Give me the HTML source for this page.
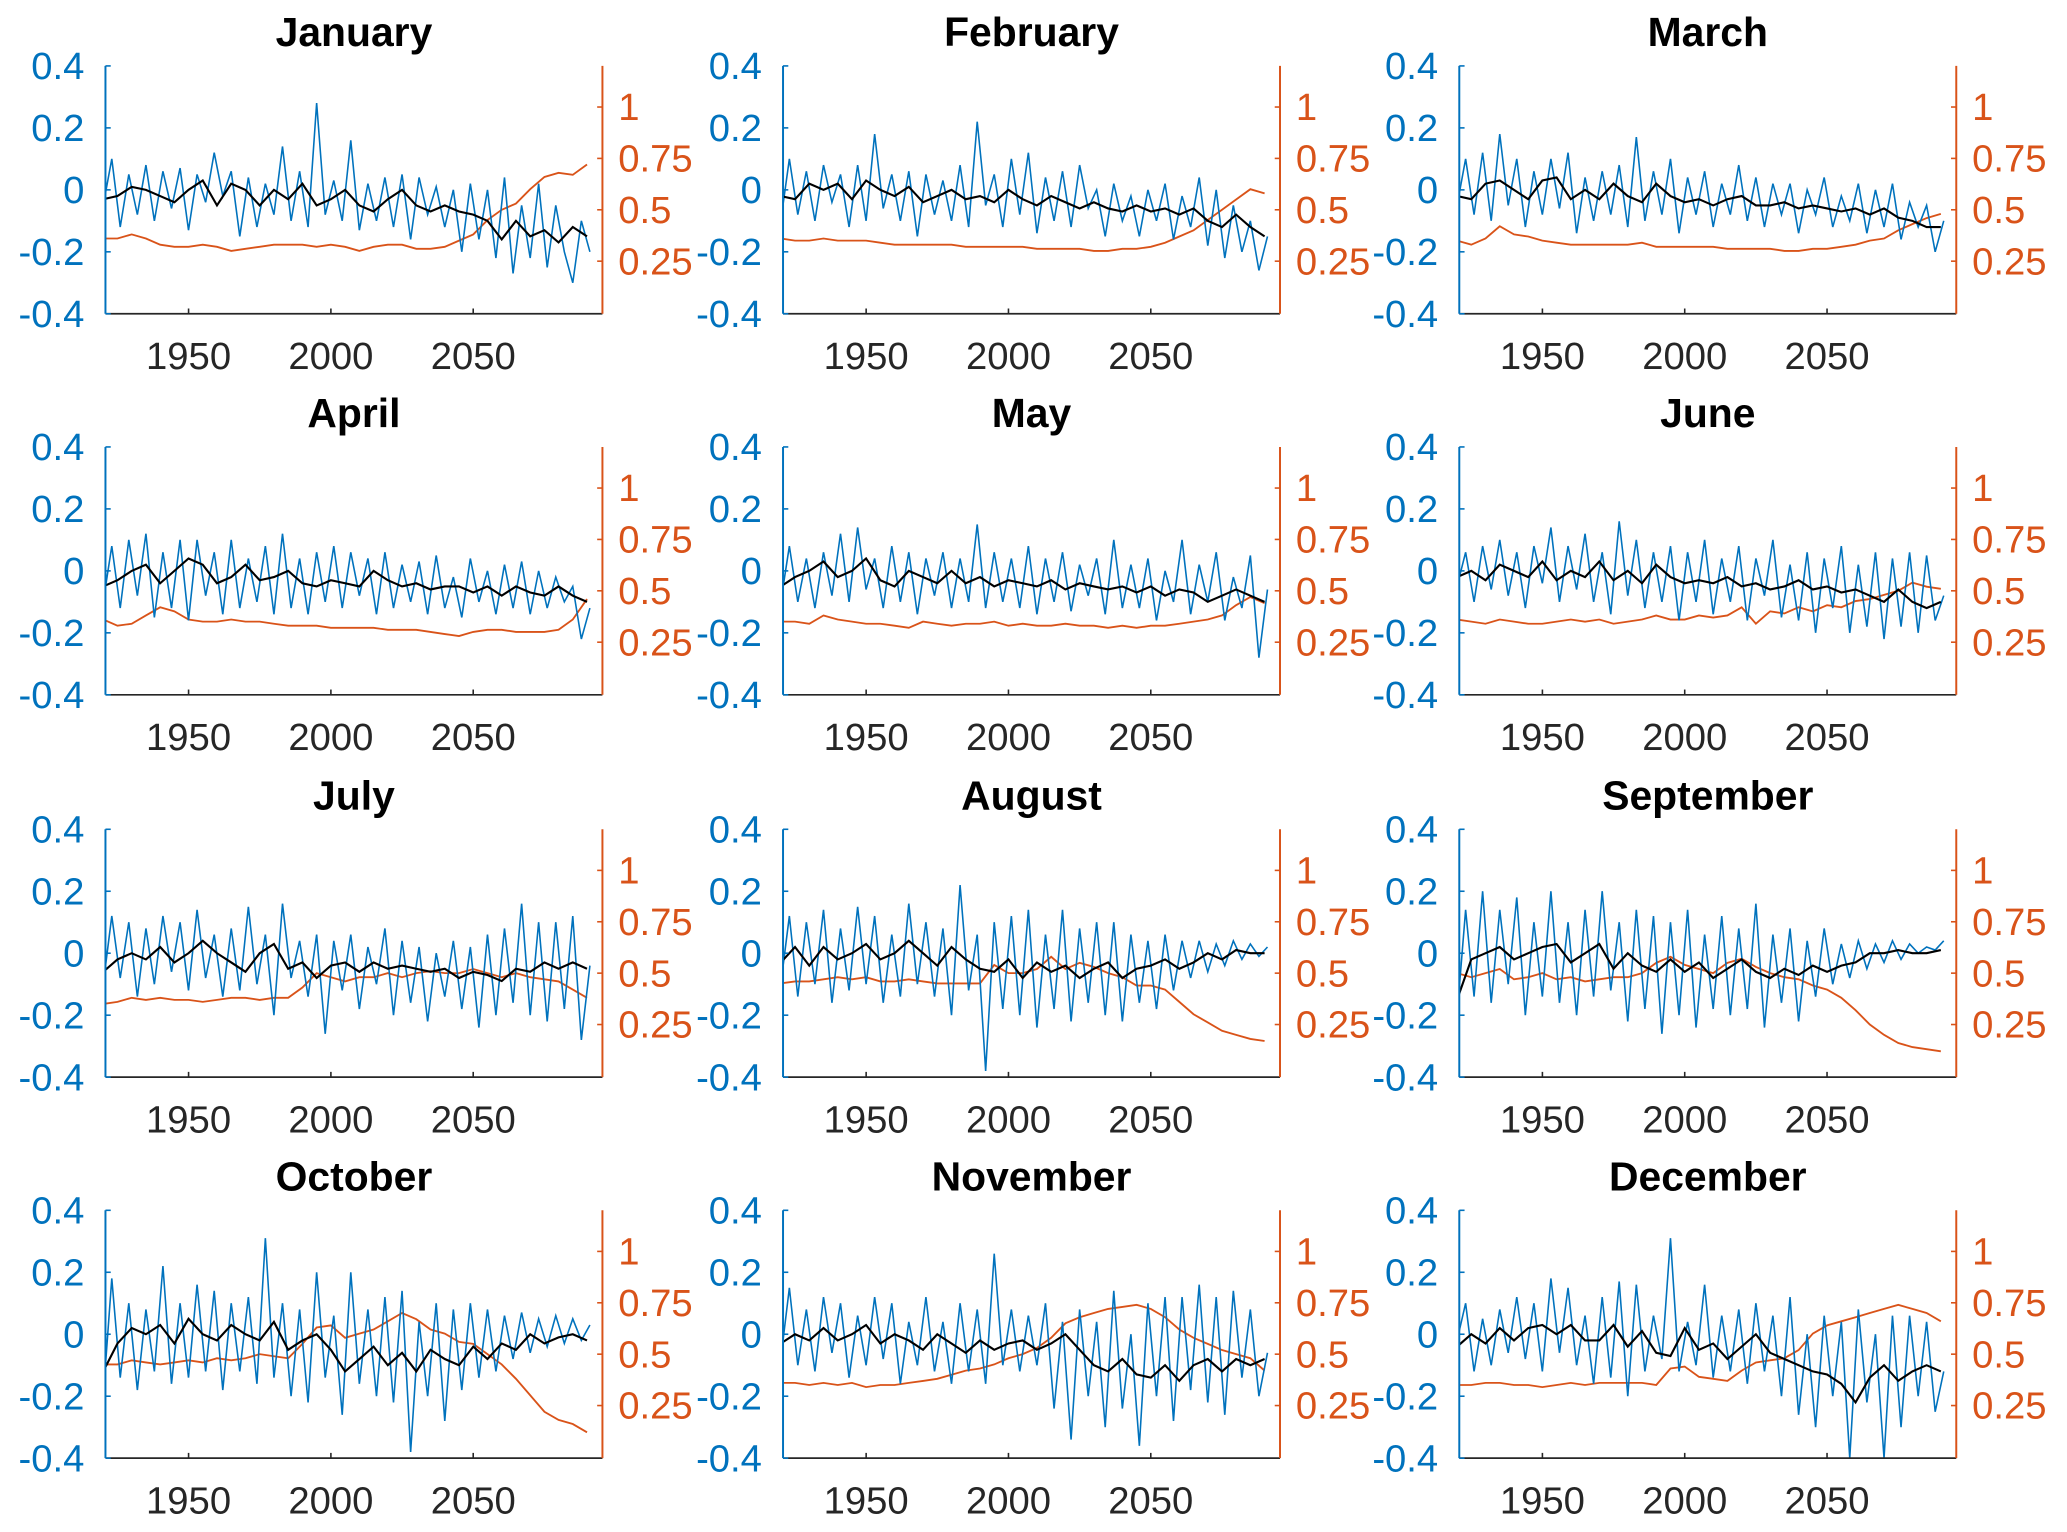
<!DOCTYPE html>
<html><head><meta charset="utf-8"><style>
html,body{margin:0;padding:0;background:#fff;}
svg{display:block;font-family:"Liberation Sans",Arial,sans-serif;}
</style></head><body>
<svg id="fig" width="2067" height="1532" viewBox="0 0 1568 1162" preserveAspectRatio="none" xmlns="http://www.w3.org/2000/svg"></svg>
<script>
const months=["January","February","March","April","May","June","July","August","September","October","November","December"];
const blueStart=1920, blueStep=3, lineStart=1920, lineStep=5;
const leftTicks=[-0.4,-0.2,0,0.2,0.4];
const leftTickLabels=["-0.4","-0.2","0","0.2","0.4"];
const rightTicks=[0.25,0.5,0.75,1];
const rightTickLabels=["0.25","0.5","0.75","1"];
const xTicks=[1950,2000,2050];
const blueJan=[-0.05,0.1,-0.12,0.05,-0.08,0.08,-0.1,0.06,-0.06,0.07,-0.13,0.05,-0.04,0.12,-0.02,0.06,-0.15,0.04,-0.12,0.02,-0.08,0.14,-0.1,0.06,-0.12,0.28,-0.08,0.03,-0.1,0.16,-0.13,0.02,-0.1,0.04,-0.12,0.05,-0.16,0.04,-0.08,0.01,-0.12,0.0,-0.2,0.02,-0.16,0.0,-0.22,0.04,-0.27,-0.05,-0.22,0.02,-0.25,-0.05,-0.2,-0.30,-0.1,-0.2];
const blackJan=[-0.03,-0.02,0.01,0.0,-0.02,-0.04,0.0,0.03,-0.05,0.02,0.0,-0.05,0.0,-0.03,0.02,-0.05,-0.03,0.0,-0.05,-0.07,-0.03,0.0,-0.05,-0.07,-0.05,-0.07,-0.08,-0.10,-0.16,-0.10,-0.15,-0.13,-0.17,-0.12,-0.15];
const orangeJan=[0.36,0.36,0.38,0.36,0.33,0.32,0.32,0.33,0.32,0.30,0.31,0.32,0.33,0.33,0.33,0.32,0.33,0.32,0.30,0.32,0.33,0.33,0.31,0.31,0.32,0.35,0.38,0.45,0.50,0.53,0.60,0.66,0.68,0.67,0.72];
const blueFeb=[-0.1,0.1,-0.08,0.06,-0.1,0.08,-0.04,0.05,-0.12,0.08,-0.1,0.18,-0.06,0.05,-0.1,0.06,-0.15,0.05,-0.08,0.03,-0.1,0.08,-0.12,0.22,-0.05,0.05,-0.12,0.1,-0.08,0.12,-0.14,0.04,-0.1,0.06,-0.12,0.08,-0.06,0.0,-0.15,0.02,-0.1,-0.02,-0.15,0.0,-0.1,0.02,-0.16,-0.02,-0.12,0.04,-0.18,0.0,-0.22,-0.05,-0.2,-0.1,-0.26,-0.15];
const blackFeb=[-0.02,-0.03,0.02,0.0,0.02,-0.03,0.03,0.0,-0.02,0.01,-0.04,-0.02,0.0,-0.03,-0.02,-0.04,0.0,-0.03,-0.05,-0.02,-0.04,-0.06,-0.04,-0.06,-0.07,-0.05,-0.07,-0.06,-0.08,-0.06,-0.10,-0.12,-0.08,-0.12,-0.15];
const orangeFeb=[0.36,0.35,0.35,0.36,0.35,0.35,0.35,0.34,0.33,0.33,0.33,0.33,0.33,0.32,0.32,0.32,0.32,0.32,0.31,0.31,0.31,0.31,0.30,0.30,0.31,0.31,0.32,0.34,0.37,0.40,0.45,0.50,0.55,0.60,0.58];
const blueMar=[-0.05,0.1,-0.08,0.12,-0.1,0.18,-0.05,0.1,-0.12,0.06,-0.08,0.1,-0.06,0.12,-0.14,0.04,-0.1,0.06,-0.08,0.08,-0.12,0.17,-0.1,0.06,-0.08,0.1,-0.14,0.04,-0.08,0.06,-0.12,0.02,-0.08,0.08,-0.1,0.04,-0.12,0.02,-0.08,0.02,-0.14,0.0,-0.08,0.04,-0.12,-0.02,-0.1,0.02,-0.14,0.0,-0.12,0.02,-0.16,-0.04,-0.12,-0.05,-0.2,-0.1];
const blackMar=[-0.02,-0.03,0.02,0.03,0.0,-0.03,0.03,0.04,-0.03,0.0,-0.03,0.02,-0.02,-0.04,0.02,-0.02,-0.04,-0.03,-0.05,-0.03,-0.02,-0.05,-0.05,-0.04,-0.06,-0.05,-0.06,-0.07,-0.06,-0.08,-0.06,-0.09,-0.1,-0.12,-0.12];
const orangeMar=[0.35,0.33,0.36,0.42,0.38,0.37,0.35,0.34,0.33,0.33,0.33,0.33,0.33,0.34,0.32,0.32,0.32,0.32,0.32,0.31,0.31,0.31,0.31,0.30,0.30,0.31,0.31,0.32,0.33,0.35,0.36,0.40,0.43,0.46,0.48];
const blueApr=[-0.1,0.08,-0.12,0.1,-0.08,0.12,-0.15,0.06,-0.12,0.1,-0.16,0.1,-0.08,0.06,-0.14,0.1,-0.12,0.04,-0.1,0.08,-0.14,0.12,-0.12,0.04,-0.14,0.06,-0.1,0.08,-0.12,0.06,-0.08,0.04,-0.14,0.06,-0.12,0.02,-0.1,0.03,-0.14,0.05,-0.12,-0.02,-0.15,0.04,-0.1,0.0,-0.14,0.02,-0.12,0.03,-0.14,0.0,-0.12,-0.02,-0.1,-0.05,-0.22,-0.12];
const blackApr=[-0.05,-0.03,0.0,0.02,-0.04,0.0,0.04,0.02,-0.04,-0.02,0.02,-0.03,-0.02,0.0,-0.04,-0.05,-0.03,-0.04,-0.05,0.0,-0.03,-0.05,-0.04,-0.06,-0.05,-0.05,-0.07,-0.05,-0.08,-0.05,-0.07,-0.08,-0.05,-0.08,-0.1];
const orangeApr=[0.36,0.33,0.34,0.38,0.42,0.40,0.36,0.35,0.35,0.36,0.35,0.35,0.34,0.33,0.33,0.33,0.32,0.32,0.32,0.32,0.31,0.31,0.31,0.30,0.29,0.28,0.30,0.31,0.31,0.30,0.30,0.30,0.31,0.36,0.46];
const blueMay=[-0.1,0.08,-0.1,0.04,-0.12,0.06,-0.08,0.12,-0.1,0.14,-0.06,0.04,-0.12,0.08,-0.1,0.06,-0.14,0.04,-0.08,0.06,-0.12,0.04,-0.1,0.15,-0.12,0.06,-0.1,0.04,-0.12,0.08,-0.14,0.04,-0.1,0.06,-0.13,0.02,-0.08,0.04,-0.14,0.1,-0.12,0.02,-0.12,0.04,-0.16,0.0,-0.1,0.1,-0.14,0.02,-0.1,0.06,-0.16,-0.02,-0.12,0.05,-0.28,-0.06];
const blackMay=[-0.05,-0.02,0.0,0.03,-0.02,0.0,0.04,-0.03,-0.05,0.0,-0.02,-0.04,0.0,-0.04,-0.02,-0.05,-0.03,-0.04,-0.05,-0.03,-0.06,-0.04,-0.05,-0.06,-0.05,-0.07,-0.05,-0.08,-0.06,-0.07,-0.1,-0.08,-0.06,-0.08,-0.1];
const orangeMay=[0.35,0.35,0.34,0.38,0.36,0.35,0.34,0.34,0.33,0.32,0.35,0.34,0.33,0.34,0.34,0.35,0.33,0.34,0.33,0.33,0.34,0.33,0.33,0.32,0.33,0.32,0.33,0.33,0.34,0.35,0.36,0.38,0.43,0.47,0.44];
const blueJun=[-0.05,0.06,-0.1,0.08,-0.06,0.1,-0.08,0.06,-0.12,0.08,-0.04,0.14,-0.1,0.08,-0.06,0.12,-0.1,0.06,-0.14,0.16,-0.08,0.1,-0.12,0.06,-0.1,0.08,-0.16,0.06,-0.1,0.1,-0.14,0.04,-0.1,0.08,-0.16,0.04,-0.08,0.1,-0.15,0.02,-0.16,0.06,-0.2,0.04,-0.12,0.08,-0.2,0.02,-0.18,0.06,-0.22,0.04,-0.18,0.06,-0.2,0.05,-0.16,-0.08];
const blackJun=[-0.02,0.0,-0.03,0.02,0.0,-0.02,0.03,-0.03,0.0,-0.02,0.03,-0.03,0.0,-0.04,0.02,-0.02,-0.04,-0.03,-0.04,-0.02,-0.05,-0.04,-0.06,-0.05,-0.03,-0.06,-0.05,-0.07,-0.06,-0.08,-0.1,-0.06,-0.1,-0.12,-0.1];
const orangeJun=[0.36,0.35,0.34,0.36,0.35,0.34,0.34,0.35,0.36,0.35,0.36,0.34,0.35,0.36,0.38,0.36,0.36,0.38,0.37,0.38,0.42,0.34,0.40,0.39,0.42,0.40,0.43,0.42,0.45,0.46,0.48,0.50,0.54,0.52,0.51];
const blueJul=[-0.1,0.12,-0.08,0.1,-0.14,0.08,-0.1,0.12,-0.06,0.1,-0.12,0.14,-0.08,0.06,-0.14,0.08,-0.12,0.15,-0.1,0.06,-0.2,0.16,-0.08,0.04,-0.14,0.06,-0.26,0.04,-0.12,0.06,-0.18,0.02,-0.1,0.08,-0.2,0.04,-0.16,0.02,-0.22,0.0,-0.14,0.04,-0.18,0.02,-0.24,0.06,-0.2,0.08,-0.16,0.16,-0.2,0.1,-0.22,0.1,-0.18,0.12,-0.28,-0.04];
const blackJul=[-0.06,-0.02,0.0,-0.02,0.02,-0.03,0.0,0.04,0.0,-0.03,-0.06,0.0,0.03,-0.05,-0.03,-0.08,-0.04,-0.03,-0.06,-0.03,-0.05,-0.04,-0.05,-0.06,-0.05,-0.08,-0.06,-0.07,-0.09,-0.05,-0.06,-0.03,-0.05,-0.03,-0.05];
const orangeJul=[0.35,0.36,0.38,0.37,0.38,0.37,0.37,0.36,0.37,0.38,0.38,0.37,0.38,0.38,0.43,0.50,0.48,0.46,0.48,0.48,0.50,0.48,0.50,0.51,0.50,0.50,0.52,0.50,0.48,0.50,0.48,0.47,0.46,0.42,0.38];
const blueAug=[-0.1,0.12,-0.14,0.1,-0.1,0.14,-0.16,0.08,-0.12,0.15,-0.1,0.12,-0.16,0.06,-0.14,0.16,-0.1,0.1,-0.14,0.08,-0.2,0.22,-0.12,0.06,-0.38,0.1,-0.18,0.12,-0.2,0.14,-0.24,0.06,-0.18,0.14,-0.22,0.08,-0.16,0.1,-0.2,0.1,-0.22,0.06,-0.16,0.04,-0.18,0.06,-0.12,0.04,-0.08,0.04,-0.06,0.03,-0.04,0.04,-0.02,0.03,-0.01,0.02];
const blackAug=[-0.03,0.02,-0.04,0.02,-0.02,0.0,0.03,-0.02,0.0,0.04,0.0,-0.04,0.02,-0.02,-0.05,-0.06,-0.02,-0.08,-0.03,-0.06,-0.04,-0.08,-0.05,-0.03,-0.08,-0.05,-0.04,-0.02,-0.05,-0.03,0.0,-0.02,0.01,0.0,0.0];
const orangeAug=[0.45,0.46,0.46,0.47,0.48,0.47,0.48,0.46,0.46,0.47,0.46,0.45,0.45,0.45,0.45,0.54,0.50,0.50,0.52,0.58,0.52,0.55,0.53,0.50,0.48,0.44,0.44,0.42,0.36,0.30,0.26,0.22,0.20,0.18,0.17];
const blueSep=[-0.2,0.14,-0.14,0.2,-0.16,0.14,-0.1,0.18,-0.2,0.1,-0.14,0.2,-0.16,0.1,-0.2,0.14,-0.14,0.2,-0.12,0.1,-0.22,0.14,-0.18,0.12,-0.26,0.1,-0.2,0.14,-0.24,0.06,-0.18,0.12,-0.2,0.08,-0.18,0.16,-0.24,0.06,-0.16,0.08,-0.22,0.04,-0.14,0.08,-0.1,0.03,-0.08,0.04,-0.05,0.03,-0.03,0.04,-0.02,0.03,0.0,0.02,0.01,0.04];
const blackSep=[-0.15,-0.02,0.0,0.02,-0.02,0.0,0.02,0.03,-0.03,0.0,0.03,-0.05,0.0,-0.04,-0.06,-0.02,-0.06,-0.03,-0.08,-0.05,-0.02,-0.06,-0.08,-0.05,-0.07,-0.04,-0.06,-0.04,-0.03,0.0,0.0,0.01,0.0,0.0,0.01];
const orangeSep=[0.50,0.48,0.50,0.52,0.47,0.48,0.50,0.47,0.48,0.46,0.47,0.48,0.48,0.50,0.55,0.58,0.54,0.52,0.50,0.55,0.57,0.53,0.50,0.48,0.47,0.44,0.42,0.38,0.32,0.25,0.20,0.16,0.14,0.13,0.12];
const blueOct=[-0.2,0.18,-0.14,0.1,-0.18,0.08,-0.12,0.22,-0.16,0.1,-0.14,0.16,-0.12,0.14,-0.18,0.1,-0.12,0.12,-0.16,0.31,-0.14,0.1,-0.2,0.08,-0.22,0.2,-0.14,0.06,-0.26,0.2,-0.16,0.08,-0.2,0.12,-0.22,0.14,-0.38,0.04,-0.2,0.1,-0.28,0.08,-0.18,0.1,-0.14,0.08,-0.12,0.06,-0.08,0.07,-0.06,0.05,-0.04,0.06,-0.03,0.05,-0.02,0.03];
const blackOct=[-0.12,-0.03,0.02,0.0,0.03,-0.03,0.05,0.0,-0.02,0.03,0.0,-0.02,0.04,-0.05,-0.02,0.0,-0.05,-0.12,-0.08,-0.04,-0.1,-0.06,-0.12,-0.05,-0.08,-0.1,-0.04,-0.08,-0.03,-0.05,0.0,-0.03,-0.01,0.0,-0.02];
const orangeOct=[0.45,0.45,0.47,0.46,0.45,0.46,0.47,0.46,0.48,0.47,0.48,0.50,0.49,0.48,0.55,0.63,0.64,0.58,0.60,0.62,0.66,0.70,0.67,0.62,0.60,0.56,0.55,0.50,0.45,0.38,0.30,0.22,0.18,0.16,0.12];
const blueNov=[-0.08,0.15,-0.1,0.08,-0.12,0.12,-0.06,0.1,-0.14,0.06,-0.1,0.12,-0.08,0.1,-0.16,0.04,-0.1,0.12,-0.12,0.04,-0.16,0.1,-0.12,0.08,-0.16,0.26,-0.1,0.08,-0.12,0.06,-0.1,0.1,-0.24,0.04,-0.34,0.08,-0.2,0.04,-0.3,0.14,-0.24,0.0,-0.36,0.1,-0.2,0.12,-0.28,0.12,-0.18,0.16,-0.22,0.12,-0.26,0.14,-0.14,0.08,-0.2,-0.06];
const blackNov=[-0.03,0.0,-0.02,0.02,-0.02,0.0,0.03,-0.03,0.0,-0.02,-0.05,0.0,-0.03,-0.06,-0.02,-0.05,-0.03,-0.02,-0.05,-0.03,0.0,-0.05,-0.1,-0.12,-0.08,-0.13,-0.14,-0.1,-0.15,-0.1,-0.08,-0.12,-0.08,-0.1,-0.08];
const orangeNov=[0.36,0.36,0.35,0.36,0.35,0.36,0.34,0.35,0.35,0.36,0.37,0.38,0.40,0.42,0.43,0.45,0.48,0.50,0.53,0.58,0.65,0.68,0.70,0.72,0.73,0.74,0.72,0.68,0.62,0.58,0.55,0.52,0.50,0.48,0.42];
const blueDec=[-0.02,0.1,-0.12,0.05,-0.1,0.08,-0.06,0.12,-0.08,0.1,-0.12,0.18,-0.06,0.15,-0.1,0.06,-0.16,0.12,-0.14,0.17,-0.2,0.16,-0.12,0.06,-0.08,0.31,-0.12,0.04,-0.1,0.16,-0.14,0.06,-0.12,0.08,-0.16,0.1,-0.12,0.06,-0.2,0.12,-0.26,0.0,-0.3,0.06,-0.2,0.04,-0.4,0.08,-0.22,0.0,-0.4,0.06,-0.3,0.06,-0.2,0.04,-0.25,-0.12];
const blackDec=[-0.04,0.0,-0.03,0.02,-0.02,0.02,0.03,0.0,0.03,-0.02,-0.02,0.03,-0.04,0.01,-0.06,-0.07,0.02,-0.05,-0.03,-0.08,-0.04,0.0,-0.06,-0.08,-0.1,-0.12,-0.13,-0.16,-0.22,-0.14,-0.1,-0.15,-0.12,-0.10,-0.12];
const orangeDec=[0.35,0.35,0.36,0.36,0.35,0.35,0.34,0.35,0.36,0.35,0.36,0.36,0.36,0.36,0.35,0.43,0.44,0.39,0.38,0.37,0.42,0.46,0.47,0.48,0.52,0.60,0.64,0.66,0.68,0.70,0.72,0.74,0.72,0.70,0.66];

const blues=[blueJan,blueFeb,blueMar,blueApr,blueMay,blueJun,blueJul,blueAug,blueSep,blueOct,blueNov,blueDec];
const blacks=[blackJan,blackFeb,blackMar,blackApr,blackMay,blackJun,blackJul,blackAug,blackSep,blackOct,blackNov,blackDec];
const oranges=[orangeJan,orangeFeb,orangeMar,orangeApr,orangeMay,orangeJun,orangeJul,orangeAug,orangeSep,orangeOct,orangeNov,orangeDec];

const NS="http://www.w3.org/2000/svg";
const svg=document.getElementById('fig');
const colL=[80,594,1107], rowT=[50,339,629,918], W=377, H=188;
const xMin=1920.8, xMax=2095.4, lMin=-0.4, lMax=0.4, rMin=-0.006, rMax=1.2;
function mk(tag,attrs,parent){const e=document.createElementNS(NS,tag);for(const k in attrs)e.setAttribute(k,attrs[k]);(parent||svg).appendChild(e);return e;}

months.forEach((m,i)=>{
  const x0=colL[i%3], y0=rowT[Math.floor(i/3)];
  const sx=v=>x0+(v-xMin)/(xMax-xMin)*W;
  const syL=v=>y0+H-(v-lMin)/(lMax-lMin)*H;
  const syR=v=>y0+H-(v-rMin)/(rMax-rMin)*H;
  const slug=m.toLowerCase();
  const g=mk('g',{});
  
  
  const cp=mk('clipPath',{id:'cp'+i},g);
  mk('rect',{x:x0,y:y0,width:W,height:H},cp);
  const t=mk('text',{x:x0+W/2,y:y0-15,'text-anchor':'middle','font-size':31,'font-weight':'bold',fill:'#000'},g);
  t.textContent=m;
  
  
  const data=mk('g',{'clip-path':'url(#cp'+i+')'},g);
  const path=(arr,start,step,sy)=>arr.map((v,k)=>(k?'L':'M')+sx(start+k*step).toFixed(1)+','+sy(v).toFixed(1)).join('');
  const ob=mk('path',{d:path(oranges[i],lineStart,lineStep,syR),fill:'none',stroke:'#D95319','stroke-width':1.4},data);
  
  
  const bl=mk('path',{d:path(blues[i],blueStart,blueStep,syL),fill:'none',stroke:'#0072BD','stroke-width':1.2},data);
  
  
  const bk=mk('path',{d:path(blacks[i],lineStart,lineStep,syL),fill:'none',stroke:'#000','stroke-width':1.6},data);
  
  
  const xa=mk('line',{x1:x0,y1:y0+H,x2:x0+W,y2:y0+H,stroke:'#262626','stroke-width':1.3},g);
  
  
  const la=mk('line',{x1:x0,y1:y0,x2:x0,y2:y0+H,stroke:'#0072BD','stroke-width':1.5},g);
  
  
  const ra=mk('line',{x1:x0+W,y1:y0,x2:x0+W,y2:y0+H,stroke:'#D95319','stroke-width':1.5},g);
  
  
  leftTicks.forEach((v,k)=>{
    mk('line',{x1:x0,y1:syL(v),x2:x0+4,y2:syL(v),stroke:'#0072BD','stroke-width':1.2},g);
    const tl=mk('text',{x:x0-16,y:syL(v)+10,'text-anchor':'end','font-size':29,fill:'#0072BD'},g);
    tl.textContent=leftTickLabels[k];
    
    
  });
  rightTicks.forEach((v,k)=>{
    mk('line',{x1:x0+W,y1:syR(v),x2:x0+W-4,y2:syR(v),stroke:'#D95319','stroke-width':1.2},g);
    const tr=mk('text',{x:x0+W+12,y:syR(v)+10,'text-anchor':'start','font-size':29,fill:'#D95319'},g);
    tr.textContent=rightTickLabels[k];
    
    
  });
  xTicks.forEach(v=>{
    mk('line',{x1:sx(v),y1:y0+H,x2:sx(v),y2:y0+H-4,stroke:'#262626','stroke-width':1.2},g);
    const tx=mk('text',{x:sx(v),y:y0+H+42,'text-anchor':'middle','font-size':29,fill:'#262626'},g);
    tx.textContent=String(v);
    
    
  });
});
</script>
</body></html>
